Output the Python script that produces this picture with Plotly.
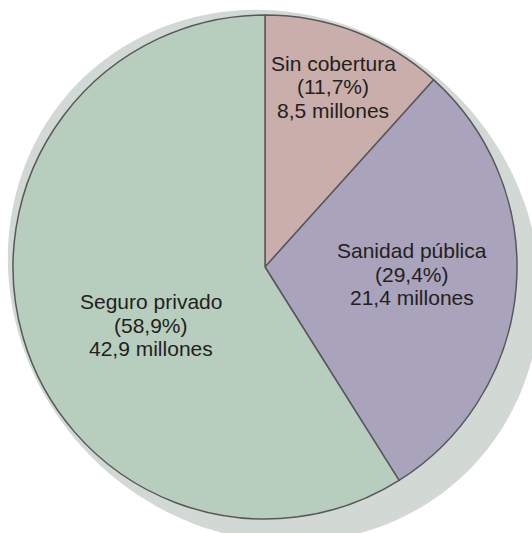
import numpy as np
import plotly.graph_objects as go

# ---- data ----
categories = ["Sin cobertura", "Sanidad pública", "Seguro privado"]
millones = [8.5, 21.4, 42.9]
colores = ["#c9aeab", "#a9a3bc", "#b7cdbe"]

# ---- layout geometry (pixels) ----
W, H = 532, 533
cx, cy, R = 265, 267, 252


def px2paper(x, y):
    return x / W, 1 - y / H


total = sum(millones)
porcentajes = [f"{100 * v / total:.1f}".replace(".", ",") + "%" for v in millones]

fig = go.Figure(go.Pie(
    labels=categories,
    values=millones,
    sort=False,
    direction="clockwise",
    rotation=0,
    marker=dict(colors=colores, line=dict(color="#58585a", width=1.5)),
    textinfo="none",
    hoverinfo="label+percent",
    showlegend=False,
    domain=dict(x=[(cx - R) / W, (cx + R) / W], y=[1 - (cy + R) / H, 1 - (cy - R) / H]),
))

# ---- drop shadow (rotated ellipse behind the pie) ----
scx, scy, sa, sb = 274, 276, 275, 257
t = np.linspace(0, 2 * np.pi, 240, endpoint=False)
u = sa * np.cos(t)
v = sb * np.sin(t)
dx = (u + v) / np.sqrt(2)
dy = (u - v) / np.sqrt(2)
pts = [px2paper(scx + a, scy + b) for a, b in zip(dx, dy)]
path = "M " + " L ".join(f"{x:.5f},{y:.5f}" for x, y in pts) + " Z"
fig.add_shape(type="path", path=path, xref="paper", yref="paper",
              fillcolor="#d2d8d3", line=dict(width=0), layer="below")

# ---- labels ----
label_pos = [(333, 87), (411.5, 274), (151, 325)]
line_gap = 23.5
font = dict(family="Liberation Sans, Arial, Helvetica, sans-serif", size=21, color="#231f20")
for cat, pct, m, (lx, ly) in zip(categories, porcentajes, millones, label_pos):
    lines = [cat, f"({pct})", f"{m:.1f}".replace(".", ",") + " millones"]
    for i, txt in enumerate(lines):
        x, y = px2paper(lx, ly + (i - 1) * line_gap)
        fig.add_annotation(x=x, y=y, xref="paper", yref="paper", text=txt,
                           showarrow=False, xanchor="center", yanchor="middle", font=font)

fig.update_layout(
    width=W, height=H,
    margin=dict(l=0, r=0, t=0, b=0),
    paper_bgcolor="white",
    plot_bgcolor="white",
)

fig.write_html("out.html")
